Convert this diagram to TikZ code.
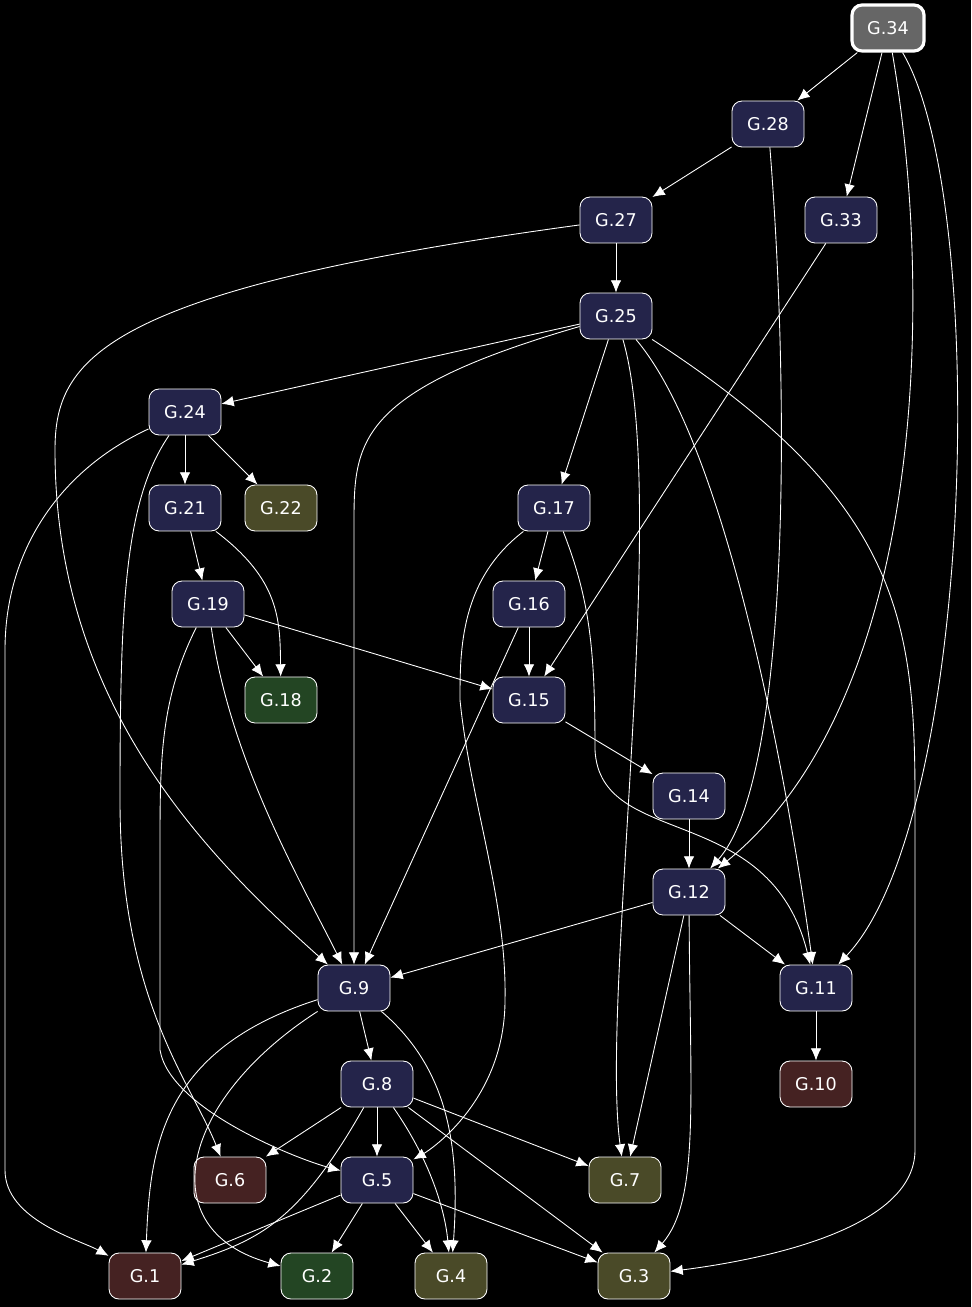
\documentclass[tikz,border=0pt]{standalone}
\usepackage{fontspec}
\setmainfont{DejaVu Sans}
\usetikzlibrary{arrows.meta}
\definecolor{nv}{HTML}{24244A}
\definecolor{ol}{HTML}{4A4A28}
\definecolor{gr}{HTML}{234523}
\definecolor{mr}{HTML}{452222}
\definecolor{gy}{HTML}{666666}
\begin{document}
\begin{tikzpicture}[x=0.02cm,y=-0.02cm,
 n/.style={draw=white,line width=0.5pt,rounded corners=0.2cm,minimum width=1.44cm,minimum height=0.92cm,text=white,font=\fontsize{10}{12}\selectfont,fill=nv,inner sep=0pt},
 e/.style={draw=white,line width=0.5pt,-{Latex[length=7pt,width=6pt]}}]
\fill[black] (0,0) rectangle (971,1307);
\useasboundingbox (0,0) rectangle (971,1307);
\node[n,fill=gy,line width=1.8pt] (34) at (888,28) {G.34};
\node[n] (28) at (768,124) {G.28};
\node[n] (27) at (616,220) {G.27};
\node[n] (33) at (841,220) {G.33};
\node[n] (25) at (616,316) {G.25};
\node[n] (24) at (185,412) {G.24};
\node[n] (21) at (185,508) {G.21};
\node[n,fill=ol] (22) at (281,508) {G.22};
\node[n] (17) at (554,508) {G.17};
\node[n] (19) at (208,604) {G.19};
\node[n] (16) at (529,604) {G.16};
\node[n,fill=gr] (18) at (281,700) {G.18};
\node[n] (15) at (529,700) {G.15};
\node[n] (14) at (689,796) {G.14};
\node[n] (12) at (689,892) {G.12};
\node[n] (9) at (354,988) {G.9};
\node[n] (11) at (816,988) {G.11};
\node[n] (8) at (377,1084) {G.8};
\node[n,fill=mr] (10) at (816,1084) {G.10};
\node[n,fill=mr] (6) at (230,1180) {G.6};
\node[n] (5) at (377,1180) {G.5};
\node[n,fill=ol] (7) at (625,1180) {G.7};
\node[n,fill=mr] (1) at (145,1276) {G.1};
\node[n,fill=gr] (2) at (317,1276) {G.2};
\node[n,fill=ol] (4) at (451,1276) {G.4};
\node[n,fill=ol] (3) at (634,1276) {G.3};

\draw[e] (34) -- (28);
\draw[e] (34) -- (33);
\draw[e] (34) .. controls (935,300) and (925,700) .. (12);
\draw[e] (34) .. controls (990,200) and (975,820) .. (11);
\draw[e] (28) -- (27);
\draw[e] (28) .. controls (790,400) and (790,780) .. (12);
\draw[e] (27) -- (25);
\draw[e] (27) .. controls (100,290) and (55,360) .. (55,450) .. controls (55,700) and (200,850) .. (9);
\draw[e] (33) -- (15);
\draw[e] (25) -- (24);
\draw[e] (25) .. controls (360,390) and (354,440) .. (354,520) -- (9);
\draw[e] (25) -- (17);
\draw[e] (25) .. controls (670,500) and (600,1000) .. (7);
\draw[e] (25) .. controls (730,450) and (790,800) .. (11);
\draw[e] (25) .. controls (900,500) and (915,620) .. (915,800) -- (915,1150) .. controls (915,1230) and (760,1260) .. (3);
\draw[e] (24) -- (21);
\draw[e] (24) -- (22);
\draw[e] (24) .. controls (125,500) and (120,600) .. (120,800) .. controls (120,1000) and (190,1080) .. (6);
\draw[e] (24) .. controls (60,470) and (5,550) .. (5,650) -- (5,1170) .. controls (5,1220) and (80,1240) .. (1);
\draw[e] (21) -- (19);
\draw[e] (21) .. controls (280,580) and (280,620) .. (18);
\draw[e] (17) -- (16);
\draw[e] (17) .. controls (460,580) and (460,650) .. (460,700) .. controls (470,800) and (507,900) .. (505,1000) .. controls (505,1100) and (430,1150) .. (5);
\draw[e] (17) .. controls (590,600) and (595,650) .. (595,750) .. controls (600,850) and (770,800) .. (11);
\draw[e] (19) -- (18);
\draw[e] (19) -- (15);
\draw[e] (19) .. controls (230,760) and (300,880) .. (9);
\draw[e] (19) .. controls (160,700) and (160,760) .. (160,850) -- (160,1050) .. controls (170,1110) and (300,1160) .. (5);
\draw[e] (16) -- (15);
\draw[e] (16) -- (9);
\draw[e] (15) -- (14);
\draw[e] (14) -- (12);
\draw[e] (12) -- (9);
\draw[e] (12) -- (11);
\draw[e] (12) -- (7);
\draw[e] (12) .. controls (690,1100) and (700,1200) .. (3);
\draw[e] (11) -- (10);
\draw[e] (9) -- (8);
\draw[e] (9) .. controls (160,1050) and (150,1150) .. (1);
\draw[e] (9) .. controls (180,1100) and (150,1230) .. (2);
\draw[e] (9) .. controls (450,1070) and (460,1150) .. (4);
\draw[e] (8) -- (6);
\draw[e] (8) -- (5);
\draw[e] (8) -- (7);
\draw[e] (8) -- (3);
\draw[e] (8) .. controls (430,1160) and (445,1210) .. (4);
\draw[e] (8) .. controls (300,1220) and (260,1240) .. (1);
\draw[e] (5) -- (1);
\draw[e] (5) -- (2);
\draw[e] (5) -- (4);
\draw[e] (5) -- (3);
\end{tikzpicture}
\end{document}
